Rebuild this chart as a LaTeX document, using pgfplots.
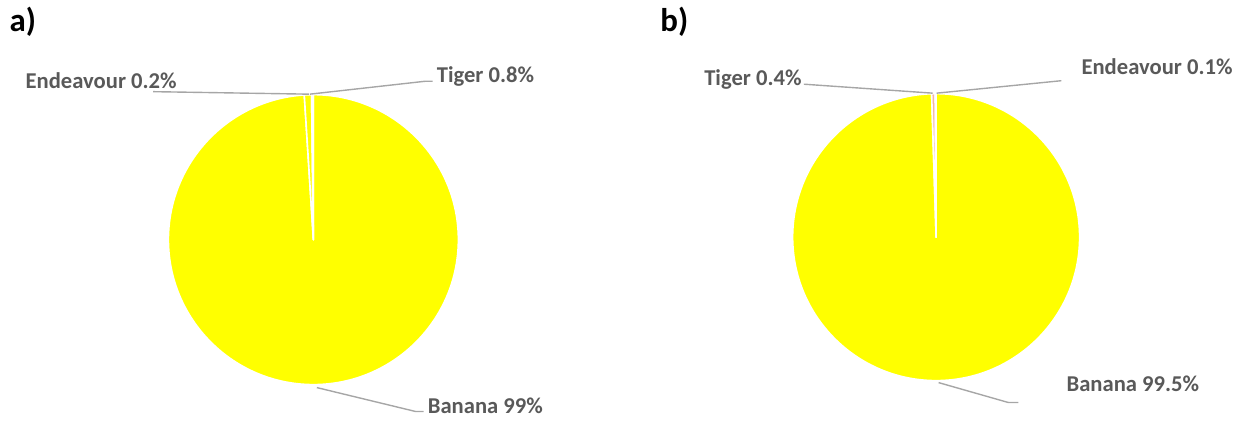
\documentclass[border=0pt]{standalone}
\usepackage{pgfplots}
\usepackage{pgfplotstable}
\pgfplotsset{compat=1.18}
\usepackage{fontspec}
\setmainfont{Carlito}
\definecolor{pieyellow}{HTML}{FFFF00}
\definecolor{piepink}{HTML}{F4B4A0}
\definecolor{lead}{HTML}{A6A6A6}
\definecolor{lbl}{HTML}{595959}

% slice values in percent, clockwise from 12 o'clock
\pgfplotstableread{
name value
Banana 99.0
Tiger 0.8
Endeavour 0.2
}\pieA
\pgfplotstableread{
name value
Banana 99.5
Tiger 0.4
Endeavour 0.1
}\pieB

\newcommand\getval[3]{\pgfplotstablegetelem{#2}{value}\of{#1}\global\let#3\pgfplotsretval}
% cx cy r start end colour  (centre in axis units = px, radius in pt)
\newcommand\sector[6]{%
  \filldraw[fill=#6, draw=white, line width=1.6pt, line join=round]
    (axis cs:#1,#2) -- ++(#4:#3pt) arc[start angle=#4, end angle=#5, radius=#3pt] -- cycle;}
\tikzset{
  lab/.style={font=\fontsize{22.7}{26}\selectfont\bfseries, text=lbl, inner sep=0pt, anchor=base west},
  panel/.style={font=\fontsize{33}{36}\selectfont\bfseries, text=black, inner sep=0pt, anchor=base west},
  leader/.style={lead, line width=1.4pt},
}

\begin{document}
\getval\pieA{0}\vAa \getval\pieA{1}\vAb \getval\pieA{2}\vAc
\getval\pieB{0}\vBa \getval\pieB{1}\vBb \getval\pieB{2}\vBc
\pgfmathsetmacro\tAa{90-3.6*\vAa}\pgfmathsetmacro\tAb{\tAa-3.6*\vAb}\pgfmathsetmacro\tAc{\tAb-3.6*\vAc}
\pgfmathsetmacro\tBa{90-3.6*\vBa}\pgfmathsetmacro\tBb{\tBa-3.6*\vBb}\pgfmathsetmacro\tBc{\tBb-3.6*\vBc}
\begin{tikzpicture}
\begin{axis}[
    width=1248pt, height=422pt, scale only axis,
    xmin=4, xmax=1250, ymin=0, ymax=422, y dir=reverse,
    enlargelimits=false, hide axis, clip=false,
  ]
  \coordinate (bbsw) at (rel axis cs:0,0);
  \coordinate (bbne) at (rel axis cs:1,1);
  % a)
  \sector{313.5}{240.5}{145.5}{90}{\tAa}{pieyellow}
  \sector{313.5}{240.5}{145.5}{\tAa}{\tAb}{pieyellow}
  \sector{313.5}{240.5}{145.5}{\tAb}{\tAc}{white}
  \draw[leader] (axis cs:153,92) -- (axis cs:309,94.5);
  \draw[leader] (axis cs:310,94.5) -- (axis cs:426,81.5) -- (axis cs:433,81.5);
  \draw[leader] (axis cs:317,389) -- (axis cs:416,413) -- (axis cs:424,413);
  \node[lab] at (axis cs:25,89) {Endeavour 0.2\%};
  \node[lab] at (axis cs:437,83) {Tiger 0.8\%};
  \node[lab] at (axis cs:428,415) {Banana 99\%};
  \node[panel] at (axis cs:9,32) {a)};
  % b)
  \sector{937.5}{238}{144}{90}{\tBa}{pieyellow}
  \sector{937.5}{238}{144}{\tBa}{\tBb}{piepink}
  \sector{937.5}{238}{144}{\tBb}{\tBc}{white}
  \draw[leader] (axis cs:805,84.5) -- (axis cs:934,93.5);
  \draw[leader] (axis cs:938,93.5) -- (axis cs:1063,81);
  \draw[leader] (axis cs:940,384) -- (axis cs:1010,404) -- (axis cs:1020,404);
  \node[lab] at (axis cs:705,86) {Tiger 0.4\%};
  \node[lab] at (axis cs:1083,75) {Endeavour 0.1\%};
  \node[lab] at (axis cs:1068,393) {Banana 99.5\%};
  \node[panel] at (axis cs:661,32) {b)};
\end{axis}
\pgfresetboundingbox
\path (bbsw) rectangle (bbne);
\end{tikzpicture}
\end{document}
